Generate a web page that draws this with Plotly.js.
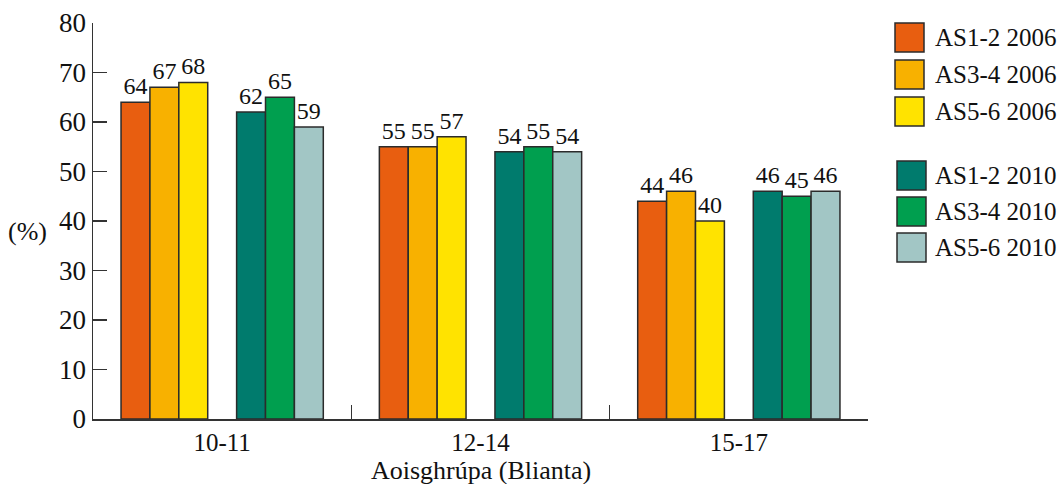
<!DOCTYPE html>
<html>
<head>
<meta charset="utf-8">
<script src="https://cdn.plot.ly/plotly-3.0.1.min.js"></script>
<style>html,body{margin:0;padding:0;background:#fff;}#chart{width:1064px;height:484px;}</style>
</head>
<body>
<div id="chart"></div>
<script>
const categories = ["10-11", "12-14", "15-17"];
const seriesNames = ["AS1-2 2006", "AS3-4 2006", "AS5-6 2006", "AS1-2 2010", "AS3-4 2010", "AS5-6 2010"];
const seriesColors = ["#E85E10", "#F8B100", "#FFE300", "#007B6D", "#009F4F", "#A2C6C5"];
const as12_2006 = [64, 55, 44];
const as34_2006 = [67, 55, 46];
const as56_2006 = [68, 57, 40];
const as12_2010 = [62, 54, 46];
const as34_2010 = [65, 55, 45];
const as56_2010 = [59, 54, 46];
const seriesValues = [as12_2006, as34_2006, as56_2006, as12_2010, as34_2010, as56_2010];
const yTicks = [0, 10, 20, 30, 40, 50, 60, 70, 80];

const FONT = "Liberation Serif, Times New Roman, serif";
const W = 1064, H = 484;
const M = {l: 93, r: 196, t: 23, b: 65};
const PW = W - M.l - M.r, PH = H - M.t - M.b;
const px = x => (x - M.l) / PW;
const py = y => (H - M.b - y) / PH;

function barTrace(i) {
  return {
    type: "bar", x: categories, y: seriesValues[i], name: seriesNames[i],
    marker: {color: seriesColors[i], line: {color: "#2b2b2b", width: 1.5}},
    text: seriesValues[i].map(String), textposition: "outside",
    textfont: {family: FONT, size: 24, color: "#111"},
    constraintext: "none", cliponaxis: false, showlegend: false, hoverinfo: "x+y+name"
  };
}
const traces = [barTrace(0), barTrace(1), barTrace(2),
  {type: "bar", x: categories, y: categories.map(() => 0), marker: {color: "rgba(0,0,0,0)", line: {width: 0}},
   showlegend: false, hoverinfo: "skip"},
  barTrace(3), barTrace(4), barTrace(5)];

// custom legend
const boxTops = [23, 60, 97, 161, 197, 233];
const boxSize = 29;
const shapes = [], annotations = [];
seriesNames.forEach((n, i) => {
  const x0 = i < 3 ? 895 : 897;
  shapes.push({type: "rect", xref: "paper", yref: "paper",
    x0: px(x0), x1: px(x0 + boxSize), y0: py(boxTops[i] + boxSize), y1: py(boxTops[i]),
    fillcolor: seriesColors[i], line: {color: "#2b2b2b", width: 1.5}});
  annotations.push({xref: "paper", yref: "paper", x: px(933), y: py(boxTops[i] + boxSize / 2),
    xanchor: "left", yanchor: "middle", text: n, showarrow: false,
    font: {family: FONT, size: 25, color: "#111"}});
});
annotations.push({xref: "paper", yref: "paper", x: px(49), y: py(231), xanchor: "right", yanchor: "middle",
  text: "(%)", showarrow: false, font: {family: FONT, size: 26, color: "#111"}});
annotations.push({xref: "paper", yref: "paper", x: 0.5, y: py(470), xanchor: "center", yanchor: "middle",
  text: "Aoisghrúpa (Blianta)", showarrow: false, font: {family: FONT, size: 26, color: "#111"}});

const layout = {
  width: W, height: H, margin: M,
  paper_bgcolor: "#fff", plot_bgcolor: "#fff",
  font: {family: FONT, size: 26, color: "#111"},
  barmode: "group", bargap: 0.217, bargroupgap: 0,
  showlegend: false,
  xaxis: {
    type: "category", showline: true, linecolor: "#333", linewidth: 1.5,
    ticks: "inside", tickson: "boundaries", ticklen: 14, tickcolor: "#333", tickwidth: 1.5,
    tickfont: {family: FONT, size: 25, color: "#111"}, showgrid: false, zeroline: false
  },
  yaxis: {
    range: [0, 80], tickvals: yTicks, ticktext: yTicks.map(String),
    showline: true, linecolor: "#333", linewidth: 1.5,
    ticks: "inside", ticklen: 14, tickcolor: "#333", tickwidth: 1.5,
    tickfont: {family: FONT, size: 27, color: "#111"}, showgrid: false, zeroline: false
  },
  shapes: shapes, annotations: annotations
};
Plotly.newPlot("chart", traces, layout, {displayModeBar: false, staticPlot: true});
</script>
</body>
</html>
